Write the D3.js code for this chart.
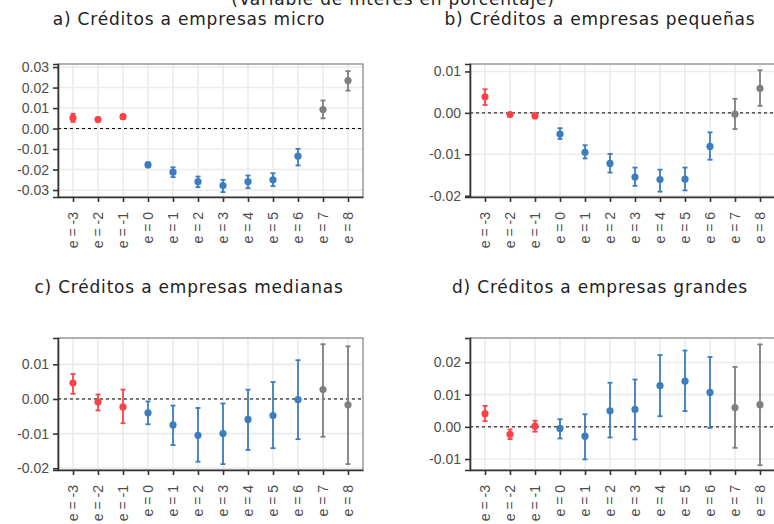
<!DOCTYPE html>
<html>

<head>
  <meta charset="UTF-8">
  <title>Event study</title>
  <script src="https://d3js.org/d3.v7.min.js"></script>
  <style>
    body {
      margin: 0;
      background: #fff;
    }

    svg text.title {
      font-family: "DejaVu Sans", sans-serif;
      font-size: 17px;
      letter-spacing: 0.8px;
      fill: #222;
    }

    svg text.tick {
      font-family: "Liberation Sans", Arial, sans-serif;
      font-size: 14px;
      fill: #4d4d4d;
    }
  </style>
</head>

<body>
  <svg></svg>

  <script>
    // event times
    let events = [-3, -2, -1, 0, 1, 2, 3, 4, 5, 6, 7, 8];

    // a) micro
    let estA = [0.0052, 0.0044, 0.0058, -0.0177, -0.0213, -0.0259, -0.0278, -0.0259, -0.0250, -0.0135, 0.0093, 0.0234];
    let loA = [0.0032, 0.0034, 0.0048, -0.0189, -0.0237, -0.0286, -0.0310, -0.0291, -0.0281, -0.0180, 0.0050, 0.0185];
    let hiA = [0.0072, 0.0054, 0.0068, -0.0165, -0.0189, -0.0234, -0.0250, -0.0229, -0.0218, -0.0099, 0.0137, 0.0280];
    let ticksA = [0.03, 0.02, 0.01, 0.00, -0.01, -0.02, -0.03];

    // b) pequeñas
    let estB = [0.0039, -0.0004, -0.0007, -0.0051, -0.0095, -0.0122, -0.0155, -0.0161, -0.0160, -0.0081, -0.0003, 0.0059];
    let loB = [0.0019, -0.0007, -0.0013, -0.0063, -0.0110, -0.0144, -0.0176, -0.0190, -0.0187, -0.0113, -0.0039, 0.0017];
    let hiB = [0.0057, -0.0001, -0.0001, -0.0037, -0.0078, -0.0099, -0.0132, -0.0137, -0.0132, -0.0047, 0.0034, 0.0103];
    let ticksB = [0.01, 0.00, -0.01, -0.02];

    // c) medianas
    let estC = [0.0046, -0.0009, -0.0023, -0.0040, -0.0075, -0.0105, -0.0100, -0.0059, -0.0048, -0.0002, 0.0027, -0.0017];
    let loC = [0.0015, -0.0033, -0.0070, -0.0073, -0.0133, -0.0181, -0.0188, -0.0147, -0.0142, -0.0116, -0.0109, -0.0188];
    let hiC = [0.0072, 0.0013, 0.0027, -0.0007, -0.0019, -0.0026, -0.0013, 0.0027, 0.0049, 0.0112, 0.0158, 0.0152];
    let ticksC = [0.01, 0.00, -0.01, -0.02];

    // d) grandes
    let estD = [0.0041, -0.0023, 0.0002, -0.0005, -0.0029, 0.0050, 0.0054, 0.0128, 0.0142, 0.0107, 0.0060, 0.0069];
    let loD = [0.0018, -0.0038, -0.0015, -0.0036, -0.0101, -0.0033, -0.0039, 0.0033, 0.0049, -0.0003, -0.0065, -0.0119];
    let hiD = [0.0065, -0.0008, 0.0019, 0.0024, 0.0039, 0.0137, 0.0147, 0.0223, 0.0237, 0.0217, 0.0186, 0.0256];
    let ticksD = [0.02, 0.01, 0.00, -0.01];

    let titles = [
      "a) Créditos a empresas micro",
      "b) Créditos a empresas pequeñas",
      "c) Créditos a empresas medianas",
      "d) Créditos a empresas grandes"
    ];

    let width = 774,
      height = 524;

    let svg = d3.select("svg")
      .attr("width", width)
      .attr("height", height);

    let colorOf = e => e < 0 ? "#fa4347" : (e <= 6 ? "#3b7dbf" : "#7f7f7f");

    let panels = [
      { est: estA, lo: loA, hi: hiA, ticks: ticksA, dom: [-0.0334, 0.0315], box: [58, 363, 64, 197], tx: 189, ty: 25 },
      { est: estB, lo: loB, hi: hiB, ticks: ticksB, dom: [-0.0203, 0.0118], box: [470, 775, 64, 197], tx: 600, ty: 25 },
      { est: estC, lo: loC, hi: hiC, ticks: ticksC, dom: [-0.0205, 0.0176], box: [58, 363, 338, 470], tx: 189, ty: 293 },
      { est: estD, lo: loD, hi: hiD, ticks: ticksD, dom: [-0.0134, 0.0276], box: [470, 775, 338, 470], tx: 600, ty: 293 }
    ];

    // overall subtitle, cut off at the top in the original
    svg.append("text")
      .attr("class", "title")
      .attr("x", 393)
      .attr("y", 5)
      .attr("text-anchor", "middle")
      .text("(Variable de interés en porcentaje)");

    panels.forEach((p, i) => {
      let [l, r, t, b] = p.box;

      let x = d3.scalePoint()
        .domain(events)
        .range([l, r])
        .padding(0.6);

      let y = d3.scaleLinear()
        .domain(p.dom)
        .range([b, t]);

      let g = svg.append("g");

      g.append("text")
        .attr("class", "title")
        .attr("x", p.tx)
        .attr("y", p.ty)
        .attr("text-anchor", "middle")
        .text(titles[i]);

      // grid
      g.selectAll(".hg")
        .data(p.ticks)
        .enter()
        .append("line")
        .attr("x1", l).attr("x2", r)
        .attr("y1", d => y(d)).attr("y2", d => y(d))
        .attr("stroke", "#ebebeb")
        .attr("stroke-width", 1.6);

      g.selectAll(".vg")
        .data(events)
        .enter()
        .append("line")
        .attr("x1", d => x(d)).attr("x2", d => x(d))
        .attr("y1", t).attr("y2", b)
        .attr("stroke", "#ebebeb")
        .attr("stroke-width", 1.6);

      // zero line
      g.append("line")
        .attr("x1", l).attr("x2", r)
        .attr("y1", y(0)).attr("y2", y(0))
        .attr("stroke", "#000")
        .attr("stroke-width", 1)
        .attr("stroke-dasharray", "3,3");

      // panel border
      g.append("rect")
        .attr("x", l).attr("y", t)
        .attr("width", r - l).attr("height", b - t)
        .attr("fill", "none")
        .attr("stroke", "#7f7f7f")
        .attr("stroke-width", 1.2);

      // y axis
      let yAxis = g.append("g")
        .attr("transform", "translate(" + l + ",0)")
        .call(d3.axisLeft(y).tickValues(p.ticks).tickSize(5).tickPadding(4).tickFormat(d3.format(".2f")));
      yAxis.select(".domain").attr("stroke", "#333").attr("stroke-width", 1.6);
      yAxis.selectAll(".tick line").attr("stroke", "#333").attr("stroke-width", 1.6);
      yAxis.selectAll(".tick text")
        .attr("class", "tick")
        .attr("font-family", null).attr("font-size", null)
        .text(d => d3.format(".2f")(d).replace("−", "-"));

      // x axis
      let xAxis = g.append("g")
        .attr("transform", "translate(0," + b + ")")
        .call(d3.axisBottom(x).tickSize(5).tickSizeOuter(0).tickFormat(d => "e = " + d));
      xAxis.select(".domain").attr("stroke", "#333").attr("stroke-width", 1.6);
      xAxis.selectAll(".tick line").attr("stroke", "#333").attr("stroke-width", 1.6);
      xAxis.selectAll(".tick text")
        .attr("class", "tick")
        .attr("font-family", null).attr("font-size", null)
        .attr("text-anchor", "end")
        .attr("y", null).attr("dy", null)
        .attr("transform", "translate(0,15) rotate(-90)")
        .attr("dy", "0.35em");

      // error bars
      let rows = events.map((e, k) => ({ e: e, est: p.est[k], lo: p.lo[k], hi: p.hi[k] }));
      let cap = 2.5;

      let bars = g.selectAll(".bar")
        .data(rows)
        .enter()
        .append("g")
        .attr("stroke", d => colorOf(d.e))
        .attr("stroke-width", 1.8);

      bars.append("line")
        .attr("x1", d => x(d.e)).attr("x2", d => x(d.e))
        .attr("y1", d => y(d.lo)).attr("y2", d => y(d.hi));
      bars.append("line")
        .attr("x1", d => x(d.e) - cap).attr("x2", d => x(d.e) + cap)
        .attr("y1", d => y(d.lo)).attr("y2", d => y(d.lo));
      bars.append("line")
        .attr("x1", d => x(d.e) - cap).attr("x2", d => x(d.e) + cap)
        .attr("y1", d => y(d.hi)).attr("y2", d => y(d.hi));

      g.selectAll(".pt")
        .data(rows)
        .enter()
        .append("circle")
        .attr("cx", d => x(d.e))
        .attr("cy", d => y(d.est))
        .attr("r", 3.6)
        .attr("fill", d => colorOf(d.e));
    });
  </script>

</body>

</html>
